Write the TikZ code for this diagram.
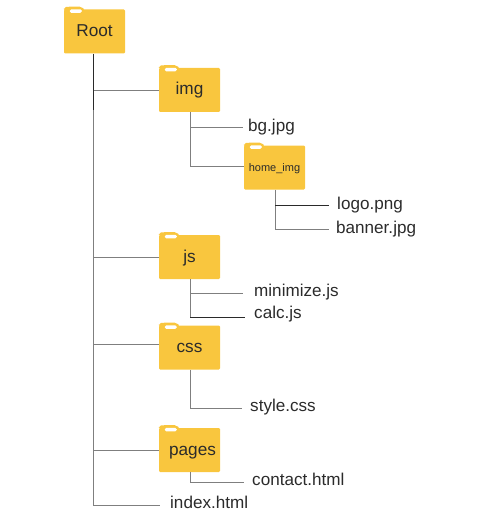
\documentclass[tikz,border=0pt]{standalone}
\usepackage{fontspec}
\setmainfont{Liberation Sans}
\definecolor{foldc}{HTML}{F9C63E}
\definecolor{connc}{HTML}{7F7F7F}
\definecolor{connd}{HTML}{2A2A2A}
\definecolor{textc}{HTML}{2B2B2B}
\tikzset{
  foldernode/.style={fill=foldc,rounded corners=1.2pt,minimum width=61pt,minimum height=44pt,inner sep=0pt,text=textc,text height=14pt,text depth=4pt,font=\fontsize{17.2}{17}\selectfont},
  filenode/.style={anchor=west,inner ysep=0pt,text=textc,text height=12pt,text depth=1pt,font=\fontsize{17.1}{17}\selectfont},
  conn/.style={draw=connc,line width=0.8pt},
  connk/.style={draw=connd,line width=0.8pt},
}
\newcommand{\foldertab}[1]{%
  \fill[foldc,rounded corners=2pt] ([yshift=-1pt]#1.north west) -- ([yshift=2pt]#1.north west) -- ([xshift=4pt,yshift=2.6pt]#1.north west) -- ([xshift=18pt,yshift=2.6pt]#1.north west) -- ([xshift=21pt,yshift=-1pt]#1.north west) -- cycle;
  \fill[white,rounded corners=1.5pt] ([xshift=6pt,yshift=-3.6pt]#1.north west) rectangle ([xshift=18pt,yshift=0pt]#1.north west);}
\begin{document}
\begin{tikzpicture}[x=1pt,y=-1pt]
\useasboundingbox (0,0) rectangle (481,532);
% folders
\node[foldernode] (root) at (94.5,31.5) {Root};
\node[foldernode] (img) at (189.5,90) {img};
\node[foldernode,text height=13pt,text depth=5pt,font=\fontsize{11}{11}\selectfont] (homeimg) at (274.5,167.5) {home\_img};
\node[foldernode] (js) at (189.5,257) {js};
\node[foldernode] (css) at (189.5,347.5) {css};
\node[foldernode] (pages) at (189.5,450) {\hspace*{6pt}pages};
\foldertab{root}\foldertab{img}\foldertab{homeimg}\foldertab{js}\foldertab{css}\foldertab{pages}
% files
\node[filenode,inner xsep=5pt] (bg) at (243,126) {bg.jpg};
\node[filenode,inner xsep=8pt] (logo) at (329,204) {logo.png};
\node[filenode,inner xsep=7pt] (banner) at (329,228) {banner.jpg};
\node[filenode,inner xsep=11pt] (minimize) at (243,291) {minimize.js};
\node[filenode,inner xsep=9pt] (calc) at (245,313) {calc.js};
\node[filenode,inner xsep=8pt] (style) at (242,406) {style.css};
\node[filenode,inner xsep=8pt] (contact) at (244,480) {contact.html};
\node[filenode,inner xsep=10pt] (index) at (160,503) {index.html};
% trunk ends and branch points
\coordinate (roottrunk) at (93.5,505);
\coordinate (rootmid) at (93.5,110);
\coordinate (imgtrunk) at (190,166);
\coordinate (hometrunk) at (275,229);
\coordinate (jstrunk) at (190,317);
\coordinate (csstrunk) at (190,408);
\coordinate (pagestrunk) at (190.5,482);
\coordinate (cssin) at ([yshift=3.5pt]css.west);
\coordinate (homein) at ([yshift=1.5pt]homeimg.west);
\coordinate (bgin) at ([yshift=-1pt]bg.west);
\coordinate (logoin) at ([yshift=-1pt]logo.west);
\coordinate (bannerin) at ([yshift=-1pt]banner.west);
\coordinate (minin) at ([yshift=-2pt]minimize.west);
\coordinate (calcin) at ([yshift=-4pt]calc.west);
\coordinate (stylein) at ([yshift=-2pt]style.west);
\coordinate (contactin) at ([yshift=-2pt]contact.west);
\coordinate (indexin) at ([yshift=-2pt]index.west);
% connectors
\draw[connk] (roottrunk |- root.south) -- (rootmid);
\draw[conn] (rootmid) -- (roottrunk) -- (indexin);
\draw[conn] (roottrunk |- img.west) -- (img.west);
\draw[conn] (roottrunk |- js.west) -- (js.west);
\draw[conn] (roottrunk |- cssin) -- (cssin);
\draw[conn] (roottrunk |- pages.west) -- (pages.west);
\draw[conn] (imgtrunk |- img.south) -- (imgtrunk) -- (homein);
\draw[conn] (imgtrunk |- bgin) -- (bgin);
\draw[conn] (hometrunk |- homeimg.south) -- (hometrunk) -- (bannerin);
\draw[connk] (hometrunk |- logoin) -- (logoin);
\draw[conn] (jstrunk |- js.south) -- (jstrunk);
\draw[conn] (jstrunk |- minin) -- (minin);
\draw[connk] (jstrunk) -- (calcin);
\draw[conn] (csstrunk |- css.south) -- (csstrunk) -- (stylein);
\draw[conn] (pagestrunk |- pages.south) -- (pagestrunk) -- (contactin);
\end{tikzpicture}
\end{document}
